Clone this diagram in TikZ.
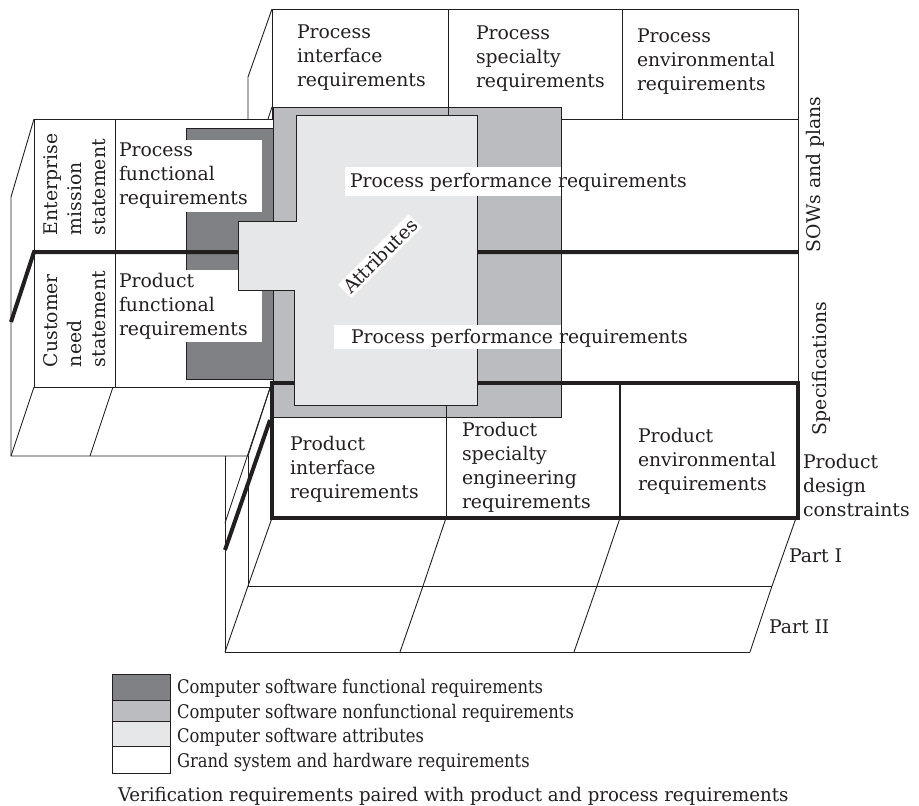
\documentclass[tikz,border=0pt]{standalone}
\usepackage{fontspec}
\setmainfont{DejaVu Serif}
\newfontfamily\keyfont[FakeStretch=0.87]{DejaVu Serif}
\newfontfamily\notefont[FakeStretch=0.965]{DejaVu Serif}
\definecolor{ink}{HTML}{231F20}
\definecolor{swfunc}{HTML}{808185}
\definecolor{swnon}{HTML}{BBBCBF}
\definecolor{swattr}{HTML}{E6E7E8}
\begin{document}
\begin{tikzpicture}[x=1pt,y=-1pt,
  every node/.style={inner sep=0pt, outer sep=0pt, text=ink},
  edge/.style={draw=ink, line width=0.9pt},
  heavy/.style={draw=ink, line width=4pt},
  mid/.style={draw=ink, line width=2pt},
  % multi-line labels are placed by the baseline of their last line
  lbl/.style={font=\fontsize{18.8}{24}\selectfont, align=left, anchor=base west},
  side/.style={lbl, rotate=90},
  keytext/.style={font=\keyfont\fontsize{18.8}{24}\selectfont, anchor=base west},
  key/.style={draw=ink, line width=0.8pt}
]
\useasboundingbox (0,0) rectangle (919,806);

% ---- process boxes on the upper shelf
\draw[edge] (272,9) rectangle (798,119);
\draw[edge] (448,9) -- (448,119);
\draw[edge] (622,9) -- (622,119);
\draw[edge] (272,9) -- (248,77) -- (248,119);

% ---- left panel (mission / need statements)
\draw[edge] (272,119) -- (34,119) -- (34,387) -- (270,387);
\draw[edge] (115,119) -- (115,387);
\draw[edge] (34,119) -- (11,197) -- (11,456) -- (248,456);
\draw[edge] (11,456) -- (34,387);
\draw[edge] (90,456) -- (113,387);
\draw[edge] (248,456) -- (270,388);

% ---- right edge of the requirement panel
\draw[edge] (798,119) -- (798,383);

% ---- step down to the product block
\draw[edge] (270,388) -- (225,523);
\draw[edge] (225,456) -- (225,652);
\draw[edge] (248,456) -- (248,586);

% ---- floor grid (Part I / Part II)
\draw[edge] (248,586) -- (772,586);
\draw[edge] (225,652) -- (750,652);
\foreach \a/\b/\c in {272/248/225, 446/423/400, 620/597/574, 796/772/750}
  \draw[edge] (\a,518) -- (\b,586) -- (\c,652);

% ---- software functional requirements
\filldraw[fill=swfunc, draw=ink, line width=0.5pt] (186,128) rectangle (274,379);
\fill[white] (116,140) rectangle (262,212);
\fill[white] (116,270) rectangle (262,342);

% ---- software nonfunctional requirements
\filldraw[fill=swnon, draw=ink, line width=0.6pt] (273,107) rectangle (561,417);
\draw[edge] (268,119) -- (272,107);

% ---- product design constraints frame
\draw[heavy] (272,383) rectangle (798,518);
\draw[heavy] (270,420) -- (225,550);
\draw[edge] (446,405) -- (446,518);
\draw[mid] (620,383) -- (620,518);

% ---- boundary between SOWs and specifications
\draw[heavy] (11,322) -- (34,252) -- (798,252);

% ---- software attributes
\filldraw[fill=swattr, draw=ink, line width=0.8pt]
  (296,115) -- (477,115) -- (477,405) -- (294,405) -- (294,290)
  -- (238,290) -- (238,221) -- (296,221) -- cycle;
\draw[edge] (448,107) -- (448,115);

% ---- performance requirement labels
\fill[white] (345,167) rectangle (561,196);
\fill[white] (334,325) rectangle (561,349);
\node[lbl] (perfA) at (350,187) {Process performance requirements};
\node[lbl] (perfB) at (351,343) {Process performance requirements};
\node[font=\fontsize{18.8}{24}\selectfont, rotate=45, fill=white, inner sep=2pt] (attr) at (380,256) {Attributes};

% ---- box texts
\node[lbl] (pint) at (297,86) {Process\\interface\\requirements};
\node[lbl] (pspec) at (476,87) {Process\\specialty\\requirements};
\node[lbl] (penv) at (637,90) {Process\\environmental\\requirements};
\node[lbl] (pfun) at (119,204) {Process\\functional\\requirements};
\node[lbl] (rfun) at (119,335) {Product\\functional\\requirements};
\node[side] (ent) at (105,235) {Enterprise\\mission\\statement};
\node[side] (cust) at (105,367) {Customer\\need\\statement};
\node[lbl] (rint) at (290,498) {Product\\interface\\requirements};
\node[lbl] (rspec) at (462,508) {Product\\specialty\\engineering\\requirements};
\node[lbl] (renv) at (638,490) {Product\\environmental\\requirements};

% ---- side labels
\node[side] (sow) at (820,252) {SOWs and plans};
\node[side] (specs) at (826,435) {Specifications};
\node[lbl] (pdc) at (803,516) {Product\\design\\constraints};
\node[lbl] (part1) at (789,562) {Part I};
\node[lbl] (part2) at (769,633) {Part II};

% ---- key
\filldraw[key, fill=swfunc] (112,674) rectangle (170,700);
\filldraw[key, fill=swnon] (112,700) rectangle (170,721);
\filldraw[key, fill=swattr] (112,721) rectangle (170,746);
\filldraw[key, fill=white] (112,746) rectangle (170,773);
\node[keytext] (k1) at (177,693) {Computer software functional requirements};
\node[keytext] (k2) at (177,718) {Computer software nonfunctional requirements};
\node[keytext] (k3) at (177,742) {Computer software attributes};
\node[keytext] (k4) at (177,767) {Grand system and hardware requirements};
\node[lbl, font=\notefont\fontsize{18.8}{24}\selectfont] (verif) at (118,801) {Verification requirements paired with product and process requirements};
\end{tikzpicture}
\end{document}
